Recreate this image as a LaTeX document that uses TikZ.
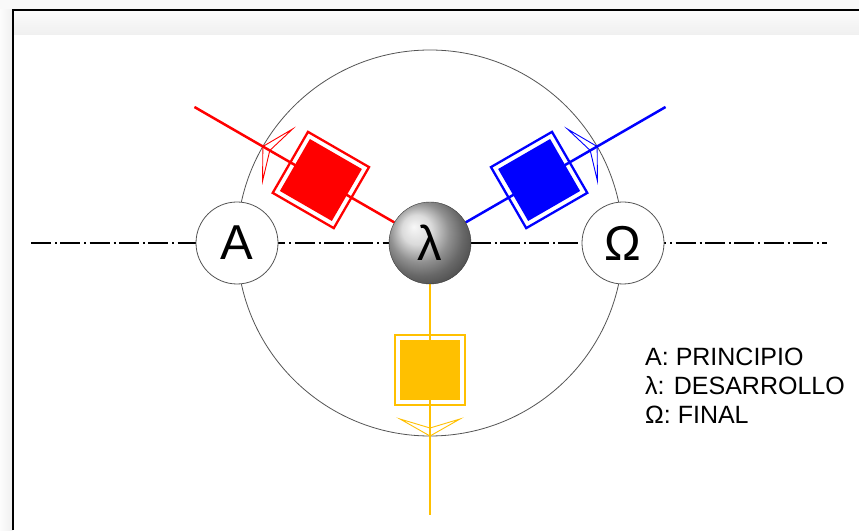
\documentclass[tikz,border=0pt]{standalone}
\usepackage{fontspec}
\setmainfont{Liberation Sans}
\usetikzlibrary{calc}
\definecolor{myred}{RGB}{255,0,0}
\definecolor{myblue}{RGB}{0,0,255}
\definecolor{mygold}{RGB}{255,192,0}
\definecolor{ringgray}{RGB}{85,85,85}
\pgfdeclarelayer{bg}
\pgfsetlayers{bg,main}
\tikzset{
  ring/.style={circle, draw=ringgray, line width=0.8pt, fill=white, minimum size=82pt, inner sep=0pt, font=\fontsize{49}{49}\selectfont},
  bigring/.style={circle, draw=ringgray, line width=0.8pt, minimum size=386pt, inner sep=0pt},
  ballnode/.style={circle, shading=ball, ball color=gray!38, draw=gray!45!black, line width=0.4pt, minimum size=82pt, inner sep=0pt, font=\fontsize{49}{49}\selectfont},
  axisline/.style={black, line width=1.7pt, dash pattern=on 20pt off 4pt on 2pt off 3.3pt},
  ray/.style={#1, line width=2.5pt},
  outerbox/.style={rectangle, draw=#1, line width=2.3pt, minimum size=70.5pt, inner sep=0pt},
  innerbox/.style={rectangle, fill=#1, minimum size=60pt, inner sep=0pt},
  arrowhd/.style={#1, line width=0.9pt, line join=miter},
  legend/.style={anchor=base west, inner sep=0pt, font=\fontsize{25}{29}\selectfont}
}
\begin{document}
\begin{tikzpicture}[x=1pt,y=1pt]
\useasboundingbox (0,0) rectangle (859,530);
\begin{pgfonlayer}{bg}
  % window background
  \fill[gray!5] (0,0) rectangle (859,530);
  \shade[left color=gray!2, right color=gray!12] (0,0) rectangle (12.5,520);
  \fill[white] (13,0) rectangle (859,520);
  \shade[top color=gray!3, bottom color=gray!12] (13.7,495) rectangle (859,519.3);
  \draw[line width=1.5pt, black] (13,0) -- (13,520) -- (859,520);
\end{pgfonlayer}

\coordinate (c) at (430,287);
\coordinate (dl) at (31,287);
\coordinate (dr) at (827,287);
\coordinate (rend) at ($(c)+(150:272)$);
\coordinate (bend) at ($(c)+(30:272)$);
\coordinate (yend) at ($(c)+(270:272)$);

% nodes
\node[ring] (A) at (237,287) {A};
\node[ring] (W) at (623,287) {Ω};
\node[ballnode] (lam) at (c) {λ};

\begin{pgfonlayer}{bg}
  \draw[axisline] (dl) -- (dr);
  \node[bigring] (big) at (c) {};
  \draw[ray=myred] (lam) -- (rend);
  \draw[ray=myblue] (lam) -- (bend);
  \draw[ray=mygold] (lam) -- (yend);
\end{pgfonlayer}

% boxes
\node[outerbox=myred, rotate=150] (rbox) at ($(c)+(150:126)$) {};
\node[innerbox=myred, rotate=150] (rboxi) at (rbox.center) {};
\node[outerbox=myblue, rotate=30] (bbox) at ($(c)+(30:126)$) {};
\node[innerbox=myblue, rotate=30] (bboxi) at (bbox.center) {};
\node[outerbox=mygold] (ybox) at ($(c)+(270:127)$) {};
\node[innerbox=mygold] (yboxi) at (ybox.center) {};

% arrowheads on the big circle
\begin{scope}[shift={(c)}, rotate=150]
  \draw[arrowhd=myred] (193,0) -- (176,30) -- (185,0) -- (176,-30) -- cycle;
\end{scope}
\begin{scope}[shift={(c)}, rotate=30]
  \draw[arrowhd=myblue] (193,0) -- (176,30) -- (185,0) -- (176,-30) -- cycle;
\end{scope}
\begin{scope}[shift={(c)}, rotate=270]
  \draw[arrowhd=mygold] (193,0) -- (176,30) -- (185,0) -- (176,-30) -- cycle;
\end{scope}

% legend
\node[legend] (leg1) at (645,164) {A: PRINCIPIO};
\node[legend] (leg2) at (645,135) {λ: DESARROLLO};
\node[legend] (leg3) at (645,106) {Ω: FINAL};
\end{tikzpicture}
\end{document}
